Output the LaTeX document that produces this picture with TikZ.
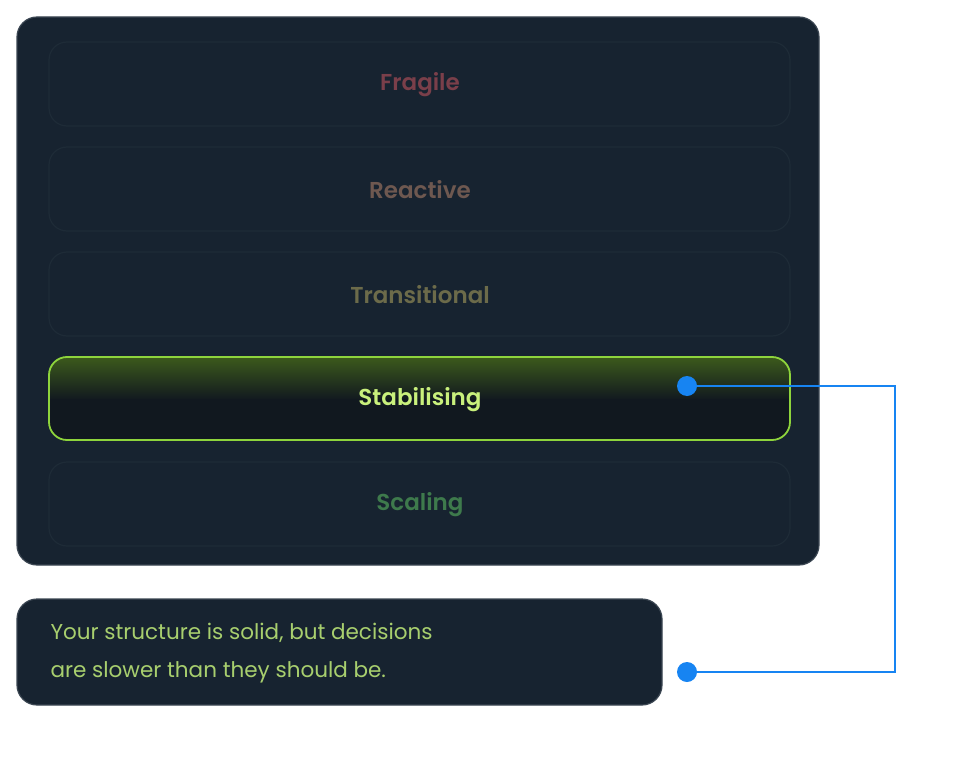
\documentclass[tikz,border=0pt]{standalone}
\usepackage{fontspec}
\setmainfont{Poppins}
\newfontfamily\lab{Poppins SemiBold}
\definecolor{panel}{HTML}{172330}
\definecolor{pborder}{HTML}{3B4652}
\definecolor{rowb}{HTML}{1E2B37}
\definecolor{cF}{HTML}{7A3F4A}
\definecolor{cR}{HTML}{6E5850}
\definecolor{cT}{HTML}{6C6B4A}
\definecolor{cSc}{HTML}{3E7A4C}
\definecolor{cSt}{HTML}{C9F07C}
\definecolor{stb}{HTML}{8ED43C}
\definecolor{stt}{HTML}{3C5A1C}
\definecolor{std}{HTML}{11181F}
\definecolor{blu}{HTML}{1784F2}
\definecolor{msg}{HTML}{A8CF6E}
\begin{document}
\begin{tikzpicture}[x=1pt,y=-1pt,
  rowbox/.style={draw=rowb,line width=1.2pt,rounded corners=18pt},
  lbl/.style={font=\lab\fontsize{23}{26}\selectfont},
  dot/.style={circle,fill=blu,inner sep=0pt,minimum size=20pt}]
\useasboundingbox (0,0) rectangle (958,773);
\draw[fill=panel,draw=pborder,line width=1.2pt,rounded corners=20pt] (17,17) rectangle (819,565);
\draw[rowbox] (49,42) rectangle (790,126);
\draw[rowbox] (49,147) rectangle (790,231);
\draw[rowbox] (49,252) rectangle (790,336);
\draw[rowbox] (49,462) rectangle (790,546);
\begin{scope}
\clip[rounded corners=18pt] (49,357) rectangle (790,440);
\shade[top color=stt,bottom color=std] (49,357) rectangle (790,400);
\fill[std] (49,399) rectangle (790,440);
\end{scope}
\draw[draw=stb,line width=1.8pt,rounded corners=18pt] (49,357) rectangle (790,440);
\node[lbl,text=cF] (f) at (420,85) {Fragile};
\node[lbl,text=cR] (r) at (420,190) {Reactive};
\node[lbl,text=cT] (t) at (420,295) {Transitional};
\node[lbl,text=cSt] (s) at (420,400) {Stabilising};
\node[lbl,text=cSc] (sc) at (420,505) {Scaling};
\draw[fill=panel,draw=pborder,line width=1.2pt,rounded corners=20pt] (17,599) rectangle (662,705);
\node[anchor=west,align=left,text=msg,font=\fontsize{21.5}{38}\selectfont] (m) at (47,653) {Your structure is solid, but decisions\\are slower than they should be.};
\node[dot] (d1) at (687,386) {};
\node[dot] (d2) at (687,672) {};
\coordinate (c1) at (895,386);
\coordinate (c2) at (895,672);
\draw[blu,line width=2.5pt] (d1.center) -- (c1) -- (c2) -- (d2.center);
\end{tikzpicture}
\end{document}
